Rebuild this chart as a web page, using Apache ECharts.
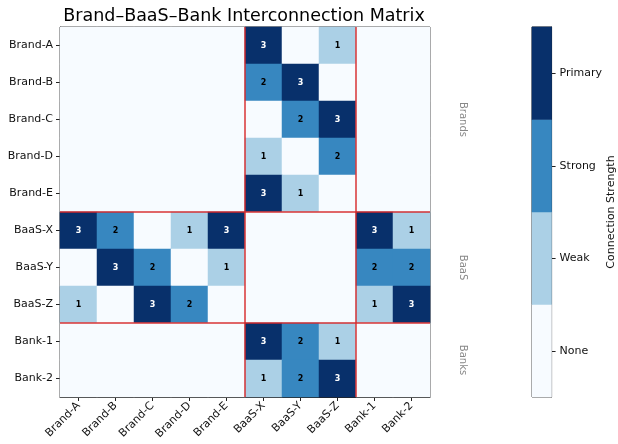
<!DOCTYPE html>
<html>
<head>
<meta charset="utf-8">
<script src="https://cdn.jsdelivr.net/npm/echarts@6/dist/echarts.min.js"></script>
<style>html,body{margin:0;padding:0;background:#fff}#c{width:618px;height:444px}</style>
</head>
<body>
<div id="c"></div>
<script>
const entities = ['Brand-A','Brand-B','Brand-C','Brand-D','Brand-E','BaaS-X','BaaS-Y','BaaS-Z','Bank-1','Bank-2'];
const matrix = [
  [0,0,0,0,0,3,0,1,0,0],
  [0,0,0,0,0,2,3,0,0,0],
  [0,0,0,0,0,0,2,3,0,0],
  [0,0,0,0,0,1,0,2,0,0],
  [0,0,0,0,0,3,1,0,0,0],
  [3,2,0,1,3,0,0,0,3,1],
  [0,3,2,0,1,0,0,0,2,2],
  [1,0,3,2,0,0,0,0,1,3],
  [0,0,0,0,0,3,2,1,0,0],
  [0,0,0,0,0,1,2,3,0,0]
];
const strengthLabels = ['None','Weak','Strong','Primary'];
const strengthValues = [0,1,2,3];
const strengthColors = ['#f7fbff','#abd0e6','#3787c0','#08306b'];
const groupNames = ['Brands','BaaS','Banks'];
const groupStart = [0,5,8];
const groupEnd = [4,7,9];
const boundaries = [5,8];

const FONT = 'DejaVu Sans';
const heatData = [];
matrix.forEach((row, r) => row.forEach((v, c) => heatData.push([c, r, v])));
const barData = strengthValues.map((v, i) => [0, i, v]);
const lineData = [];
boundaries.forEach(b => { lineData.push([b, 0, 0]); lineData.push([0, b, 1]); });
const groupData = groupNames.map((n, i) => [9, groupStart[i], groupEnd[i], n]);

const axisLineStyle = {show: true, lineStyle: {color: '#222', width: 1}};
const tickStyle = {show: true, alignWithLabel: true, length: 4, lineStyle: {color: '#222', width: 1}};

const chart = echarts.init(document.getElementById('c'), null, {renderer: 'canvas'});
chart.setOption({
  animation: false,
  textStyle: {fontFamily: FONT},
  title: {
    text: 'Brand\u2013BaaS\u2013Bank Interconnection Matrix',
    left: 239, top: 2, textAlign: 'center',
    textStyle: {fontFamily: FONT, fontSize: 17.5, fontWeight: 'normal', color: '#000'}
  },
  visualMap: {
    type: 'piecewise', show: false, dimension: 2, seriesIndex: [0, 3],
    pieces: strengthValues.map((v, i) => ({value: v, color: strengthColors[i]}))
  },
  grid: [
    {left: 60, top: 27, width: 370, height: 370, show: true, borderColor: '#222', borderWidth: 1, backgroundColor: 'transparent'},
    {left: 532, top: 27, width: 21, height: 370, show: true, borderColor: '#222', borderWidth: 1, backgroundColor: 'transparent'}
  ],
  xAxis: [
    {type: 'category', gridIndex: 0, data: entities, position: 'bottom',
     axisLine: axisLineStyle, splitLine: {show: false}, axisTick: tickStyle,
     axisLabel: {rotate: 45, fontSize: 11, color: '#111', fontFamily: FONT, margin: 7, interval: 0}},
    {type: 'category', gridIndex: 1, data: ['cb'], show: false}
  ],
  yAxis: [
    {type: 'category', gridIndex: 0, data: entities, inverse: true,
     axisLine: axisLineStyle, splitLine: {show: false}, axisTick: tickStyle,
     axisLabel: {fontSize: 11, color: '#111', fontFamily: FONT, margin: 7, interval: 0}},
    {type: 'category', gridIndex: 1, data: strengthLabels, position: 'right',
     axisLine: axisLineStyle, splitLine: {show: false}, axisTick: tickStyle,
     axisLabel: {fontSize: 11, color: '#111', fontFamily: FONT, margin: 8},
     name: 'Connection Strength', nameLocation: 'middle', nameRotate: 90, nameGap: 52,
     nameTextStyle: {fontSize: 11, color: '#111', fontFamily: FONT}}
  ],
  series: [
    {
      type: 'heatmap', xAxisIndex: 0, yAxisIndex: 0, data: heatData, z: 1,
      label: {
        show: true, fontSize: 8, fontWeight: 'bold', fontFamily: FONT,
        formatter: p => p.value[2] === 0 ? '' : (p.value[2] === 3 ? '{w|' + p.value[2] + '}' : '{b|' + p.value[2] + '}'),
        rich: {
          w: {color: '#fff', fontSize: 8, fontWeight: 'bold', fontFamily: FONT},
          b: {color: '#000', fontSize: 8, fontWeight: 'bold', fontFamily: FONT}
        }
      },
      emphasis: {disabled: true}
    },
    {
      type: 'custom', xAxisIndex: 0, yAxisIndex: 0, data: lineData, z: 5, clip: false,
      renderItem: (params, api) => {
        const cs = params.coordSys;
        const size = api.size([1, 1]);
        const k0 = api.value(0), k1 = api.value(1), dir = api.value(2);
        const style = {stroke: 'rgba(214,39,40,0.7)', lineWidth: 2};
        if (dir === 0) {
          const x = api.coord([k0, 0])[0] - size[0] / 2;
          return {type: 'line', shape: {x1: x, y1: cs.y, x2: x, y2: cs.y + cs.height}, style};
        }
        const y = api.coord([0, k1])[1] - size[1] / 2;
        return {type: 'line', shape: {x1: cs.x, y1: y, x2: cs.x + cs.width, y2: y}, style};
      }
    },
    {
      type: 'custom', xAxisIndex: 0, yAxisIndex: 0, data: groupData, z: 5, clip: false,
      encode: {x: 0, y: 1},
      renderItem: (params, api) => {
        const cs = params.coordSys;
        const i = params.dataIndex;
        const y1 = api.coord([0, groupStart[i]])[1];
        const y2 = api.coord([0, groupEnd[i]])[1];
        return {
          type: 'text', x: cs.x + cs.width + 33, y: (y1 + y2) / 2, rotation: -Math.PI / 2,
          style: {text: groupNames[i], fill: '#888', fontSize: 10, fontFamily: FONT, align: 'center', verticalAlign: 'middle'}
        };
      }
    },
    {
      type: 'heatmap', xAxisIndex: 1, yAxisIndex: 1, data: barData, label: {show: false}, emphasis: {disabled: true}
    }
  ]
});
</script>
</body>
</html>
